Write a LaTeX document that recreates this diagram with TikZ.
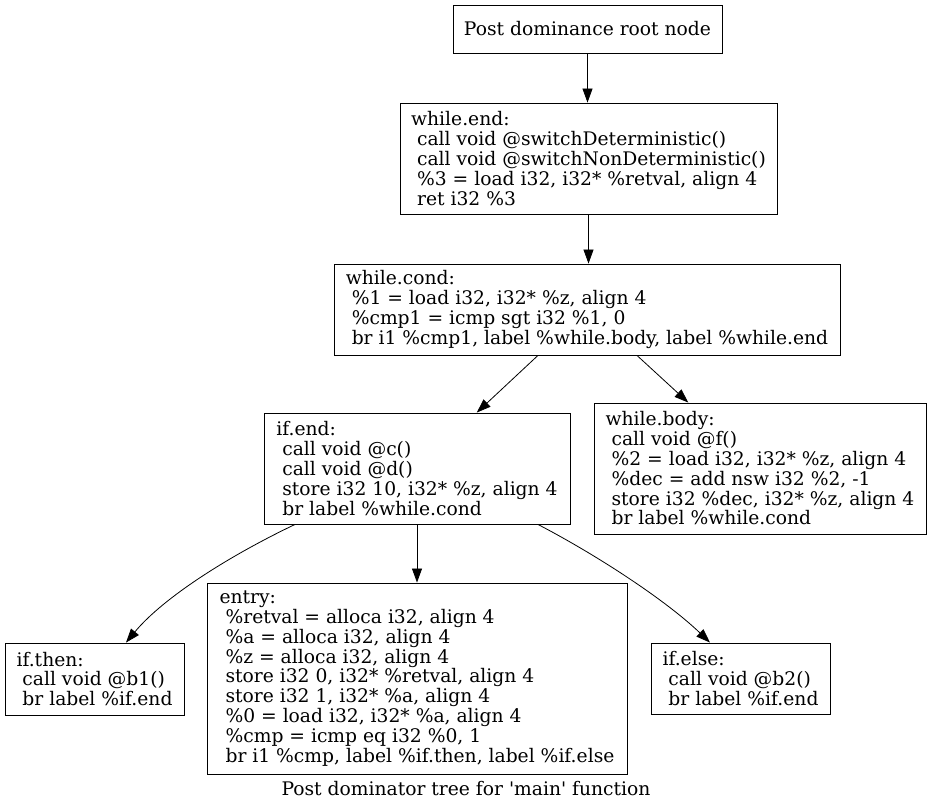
\documentclass[tikz,border=0pt]{standalone}
\usepackage{fontspec}
\setmainfont{DejaVu Serif}
\usetikzlibrary{arrows.meta}
\newcommand\ld{\hspace*{\fontdimen2\font}}
\begin{document}
\begin{tikzpicture}[x=1pt,y=-1pt,
  blk/.style={draw, line width=0.9pt, rectangle, align=left, inner xsep=1pt, inner ysep=0pt,
    font=\fontsize{18.7}{19.8}\selectfont},
  edge/.style={line width=0.8pt, -{Triangle[length=14pt,width=10pt]}},
  captxt/.style={font=\fontsize{18.7}{19.8}\selectfont, inner sep=0pt}]
\useasboundingbox[fill=white] (0,0) rectangle (931,811);
\node[blk, align=center, minimum width=269pt, minimum height=48pt] (root) at (587.5,29) {Post dominance root node};
\node[blk, minimum width=377pt, minimum height=111pt] (wend) at (588.5,158.5) {while.end:\\
\ld call void @switchDeterministic()\\
\ld call void @switchNonDeterministic()\\
\ld \%3 = load i32, i32* \%retval, align 4\\
\ld ret i32 \%3};
\node[blk, minimum width=506pt, minimum height=91pt] (wcond) at (587,309.5) {while.cond:\\
\ld \%1 = load i32, i32* \%z, align 4\\
\ld \%cmp1 = icmp sgt i32 \%1, 0\\
\ld br i1 \%cmp1, label \%while.body, label \%while.end};
\node[blk, minimum width=306pt, minimum height=111pt] (ifend) at (417,468.5) {if.end:\\
\ld call void @c()\\
\ld call void @d()\\
\ld store i32 10, i32* \%z, align 4\\
\ld br label \%while.cond};
\node[blk, minimum width=332pt, minimum height=131pt] (wbody) at (760,468.5) {while.body:\\
\ld call void @f()\\
\ld \%2 = load i32, i32* \%z, align 4\\
\ld \%dec = add nsw i32 \%2, -1\\
\ld store i32 \%dec, i32* \%z, align 4\\
\ld br label \%while.cond};
\node[blk, minimum width=420pt, minimum height=191pt] (entry) at (417,678.5) {entry:\\
\ld \%retval = alloca i32, align 4\\
\ld \%a = alloca i32, align 4\\
\ld \%z = alloca i32, align 4\\
\ld store i32 0, i32* \%retval, align 4\\
\ld store i32 1, i32* \%a, align 4\\
\ld \%0 = load i32, i32* \%a, align 4\\
\ld \%cmp = icmp eq i32 \%0, 1\\
\ld br i1 \%cmp, label \%if.then, label \%if.else};
\node[blk, minimum width=179pt, minimum height=72pt] (ithen) at (94.5,679) {if.then:\\
\ld call void @b1()\\
\ld br label \%if.end};
\node[blk, minimum width=179pt, minimum height=71pt] (ielse) at (740.5,678.5) {if.else:\\
\ld call void @b2()\\
\ld br label \%if.end};
\node[captxt] (caption) at (466,789) {Post dominator tree for \textquotesingle main\textquotesingle{} function};
\draw[edge] (root.south) -- (root.south |- wend.north);
\draw[edge] (wend.south) -- (wend.south |- wcond.north);
\draw[edge] (wcond) -- (ifend);
\draw[edge] (wcond) -- (wbody);
\draw[edge] (ifend.south) -- (ifend.south |- entry.north);
\draw[edge] ([xshift=-122pt]ifend.south) .. controls +(-63,30) and +(38.4,-46.2) .. ([xshift=31.5pt]ithen.north);
\draw[edge] ([xshift=121pt]ifend.south) .. controls +(62,32.4) and +(-43.2,-41.4) .. ([xshift=-30.5pt]ielse.north);
\end{tikzpicture}
\end{document}
